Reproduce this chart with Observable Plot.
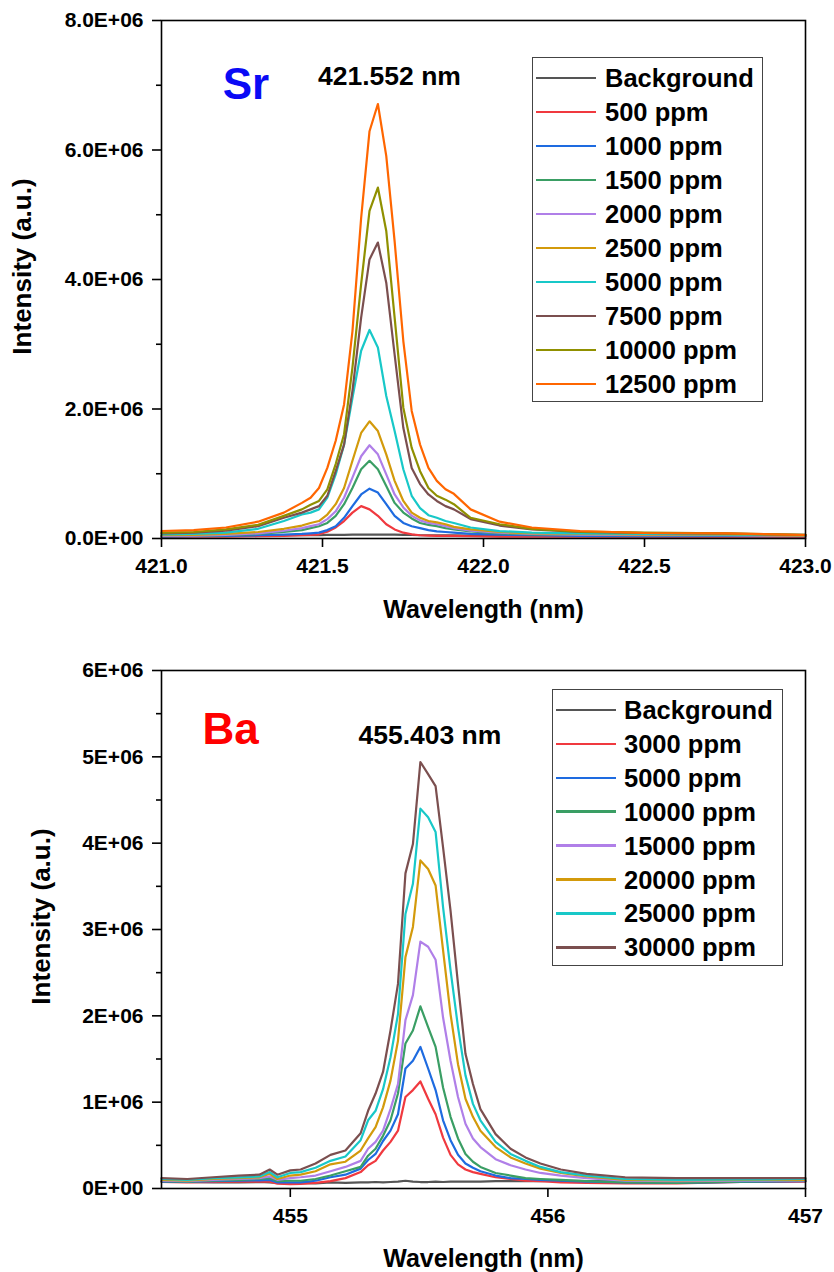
<!DOCTYPE html>
<html><head><meta charset="utf-8">
<script src="https://cdn.jsdelivr.net/npm/d3@7"></script>
<script src="https://cdn.jsdelivr.net/npm/@observablehq/plot@0.6"></script>
<style>
body{margin:0;background:#fff;}
#wrap{position:relative;width:834px;height:1272px;font-family:"Liberation Sans",Arial,sans-serif;}
#wrap svg{display:block;}
.legend{position:absolute;border:1.4px solid #444;background:#fff;box-sizing:border-box;}
.legend .row{position:absolute;left:0;height:26px;display:flex;align-items:center;font-weight:bold;font-size:25.5px;line-height:26px;white-space:nowrap;color:#000;}
.legend .sw{position:absolute;height:2.6px;}
</style></head><body><div id="wrap"></div>
<script>
// ---------- Sr panel data (intensity in units of 1E+06 a.u.) ----------
const srWavelength = [421.0,421.1,421.2,421.3,421.38,421.436,421.463,421.489,421.515,421.541,421.567,421.593,421.620,421.646,421.672,421.698,421.724,421.751,421.777,421.803,421.829,421.855,421.882,421.908,421.96,422.05,422.15,422.3,422.5,422.75,423.0];
const srNames = ["Background","500 ppm","1000 ppm","1500 ppm","2000 ppm","2500 ppm","5000 ppm","7500 ppm","10000 ppm","12500 ppm"];
const srColors = ["#555555","#F0393F","#1E6BE0","#3A9E64","#B07FE8","#D39A0B","#18C8C8","#7B4F4F","#909000","#FF6600"];
const srBackground = [0.04,0.04,0.045,0.045,0.05,0.05,0.05,0.05,0.055,0.055,0.055,0.06,0.06,0.06,0.06,0.06,0.06,0.055,0.055,0.05,0.05,0.05,0.05,0.05,0.045,0.045,0.04,0.035,0.03,0.03,0.03];
const sr500 = [0.025,0.03,0.03,0.035,0.04,0.05,0.055,0.065,0.105,0.17,0.27,0.40,0.50,0.45,0.35,0.22,0.14,0.09,0.065,0.05,0.045,0.042,0.04,0.04,0.035,0.03,0.03,0.03,0.03,0.03,0.025];
const sr1000 = [0.03,0.035,0.04,0.05,0.06,0.07,0.08,0.09,0.13,0.19,0.32,0.50,0.68,0.77,0.71,0.53,0.35,0.24,0.19,0.16,0.13,0.11,0.10,0.09,0.07,0.06,0.05,0.04,0.035,0.04,0.035];
const sr1500 = [0.035,0.04,0.05,0.07,0.10,0.13,0.16,0.19,0.24,0.35,0.53,0.78,1.07,1.20,1.07,0.81,0.55,0.40,0.31,0.24,0.21,0.19,0.16,0.14,0.11,0.08,0.065,0.055,0.05,0.05,0.04];
const sr2000 = [0.04,0.045,0.055,0.08,0.12,0.16,0.19,0.22,0.30,0.42,0.63,0.94,1.27,1.44,1.30,0.99,0.68,0.48,0.35,0.28,0.24,0.22,0.19,0.16,0.12,0.09,0.07,0.06,0.05,0.05,0.04];
const sr2500 = [0.05,0.055,0.07,0.10,0.15,0.20,0.24,0.27,0.37,0.53,0.78,1.20,1.63,1.81,1.66,1.30,0.89,0.58,0.40,0.32,0.27,0.25,0.22,0.18,0.14,0.10,0.08,0.07,0.06,0.06,0.045];
const sr5000 = [0.065,0.07,0.09,0.15,0.27,0.37,0.40,0.45,0.63,0.99,1.45,2.17,2.90,3.22,2.95,2.20,1.66,1.07,0.66,0.47,0.36,0.32,0.27,0.24,0.17,0.115,0.09,0.08,0.07,0.065,0.05];
const sr7500 = [0.08,0.09,0.12,0.19,0.32,0.40,0.45,0.50,0.66,1.04,1.45,2.28,3.41,4.31,4.57,3.95,2.84,1.71,1.09,0.84,0.68,0.58,0.50,0.45,0.30,0.20,0.14,0.10,0.085,0.075,0.055];
const sr10000 = [0.09,0.10,0.14,0.21,0.35,0.45,0.52,0.58,0.76,1.15,1.61,2.64,3.93,5.06,5.42,4.75,3.41,2.02,1.40,1.04,0.78,0.66,0.60,0.53,0.32,0.22,0.15,0.105,0.09,0.08,0.055];
const sr12500 = [0.116,0.13,0.17,0.26,0.40,0.55,0.63,0.78,1.09,1.51,2.07,3.20,4.95,6.29,6.71,5.91,4.59,3.05,1.97,1.45,1.09,0.89,0.76,0.69,0.45,0.26,0.17,0.116,0.085,0.08,0.054];
const srXTicks = [421.0,421.5,422.0,422.5,423.0];
const srYTicks = [0,2e6,4e6,6e6,8e6];
const srYMinor = [1e6,3e6,5e6,7e6];
const srNotes = [
  {text:"Sr", x:421.19, y:6.78e6, color:"#0A0AF5", size:44, anchor:"start"},
  {text:"421.552 nm", x:421.708, y:7.01e6, color:"#000", size:26.5, anchor:"middle"}
];

// ---------- Ba panel data (intensity in units of 1E+06 a.u.) ----------
const baWavelength = [454.5,454.6,454.7,454.8,454.88,454.92,454.95,455.0,455.040,455.098,455.156,455.214,455.273,455.302,455.331,455.360,455.389,455.418,455.447,455.476,455.505,455.535,455.564,455.593,455.622,455.651,455.680,455.709,455.738,455.797,455.855,455.913,455.971,456.05,456.15,456.3,456.5,456.75,457.0];
const baNames = ["Background","3000 ppm","5000 ppm","10000 ppm","15000 ppm","20000 ppm","25000 ppm","30000 ppm"];
const baColors = ["#555555","#F0393F","#1E6BE0","#3A9E64","#B07FE8","#D39A0B","#18C8C8","#7B4F4F"];
const baBackground = [0.08,0.075,0.07,0.07,0.075,0.07,0.065,0.06,0.065,0.06,0.07,0.065,0.07,0.07,0.075,0.07,0.075,0.08,0.09,0.08,0.075,0.075,0.08,0.075,0.08,0.08,0.08,0.08,0.08,0.085,0.085,0.085,0.085,0.09,0.085,0.09,0.09,0.09,0.09];
const ba3000 = [0.075,0.07,0.075,0.08,0.08,0.08,0.055,0.05,0.054,0.066,0.085,0.12,0.19,0.27,0.32,0.44,0.54,0.67,1.06,1.14,1.24,1.04,0.86,0.59,0.39,0.28,0.22,0.19,0.17,0.13,0.11,0.09,0.085,0.07,0.066,0.06,0.06,0.075,0.08];
const ba5000 = [0.08,0.075,0.085,0.09,0.095,0.10,0.07,0.07,0.07,0.09,0.13,0.16,0.23,0.33,0.40,0.55,0.67,0.86,1.39,1.48,1.64,1.39,1.14,0.79,0.56,0.39,0.29,0.24,0.20,0.15,0.12,0.11,0.10,0.09,0.08,0.07,0.065,0.075,0.085];
const ba10000 = [0.085,0.08,0.09,0.10,0.11,0.12,0.085,0.09,0.09,0.11,0.15,0.20,0.25,0.38,0.46,0.61,0.79,1.10,1.68,1.83,2.11,1.87,1.64,1.17,0.83,0.58,0.40,0.31,0.25,0.18,0.15,0.12,0.11,0.10,0.085,0.07,0.065,0.08,0.09];
const ba15000 = [0.09,0.085,0.10,0.11,0.12,0.14,0.10,0.12,0.13,0.15,0.20,0.25,0.32,0.46,0.54,0.67,0.92,1.21,1.95,2.24,2.86,2.80,2.65,1.98,1.48,1.06,0.75,0.58,0.48,0.34,0.27,0.22,0.18,0.15,0.12,0.09,0.085,0.09,0.095];
const ba20000 = [0.10,0.09,0.11,0.12,0.13,0.17,0.11,0.15,0.16,0.20,0.28,0.31,0.44,0.58,0.71,0.94,1.25,1.71,2.68,3.03,3.80,3.70,3.51,2.76,2.02,1.44,1.04,0.83,0.67,0.48,0.36,0.29,0.23,0.18,0.14,0.10,0.095,0.10,0.10];
const ba25000 = [0.11,0.10,0.12,0.13,0.14,0.19,0.13,0.18,0.19,0.24,0.32,0.37,0.56,0.79,0.90,1.15,1.52,2.02,3.18,3.53,4.40,4.30,4.13,3.26,2.53,1.87,1.31,0.98,0.79,0.54,0.40,0.32,0.25,0.19,0.15,0.11,0.10,0.105,0.11];
const ba30000 = [0.12,0.11,0.13,0.15,0.16,0.22,0.16,0.21,0.22,0.29,0.39,0.44,0.64,0.90,1.10,1.35,1.83,2.37,3.65,3.99,4.94,4.80,4.66,3.95,3.22,2.37,1.56,1.21,0.92,0.63,0.46,0.36,0.29,0.22,0.17,0.13,0.12,0.12,0.12];
const baXTicks = [455,456,457];
const baYTicks = [0,1e6,2e6,3e6,4e6,5e6,6e6];
const baYMinor = [0.5e6,1.5e6,2.5e6,3.5e6,4.5e6,5.5e6];
const baNotes = [
  {text:"Ba", x:454.659, y:5.15e6, color:"#FF0000", size:44, anchor:"start"},
  {text:"455.403 nm", x:455.542, y:5.15e6, color:"#000", size:26.5, anchor:"middle"}
];

function sci(d, digits) {
  if (d === 0) return (0).toFixed(digits) + "E+00";
  const e = Math.floor(Math.log10(Math.abs(d)) + 1e-9);
  const m = d / Math.pow(10, e);
  return m.toFixed(digits) + "E" + (e < 0 ? "-" : "+") + String(Math.abs(e)).padStart(2, "0");
}

function makePanel(cfg) {
  const rows = [];
  cfg.series.forEach((vals, i) => vals.forEach((v, j) => rows.push({wl: cfg.wl[j], v: v * 1e6, s: cfg.names[i]})));
  const marks = [
    Plot.line(rows, {x: "wl", y: "v", z: "s", stroke: "s", strokeWidth: 2.2, strokeLinejoin: "round"}),
    Plot.frame({stroke: "#000", strokeWidth: 1.6}),
    Plot.axisX({ticks: cfg.xTicks, tickSize: 9, tickPadding: 11, tickFormat: cfg.xFmt, label: null, strokeWidth: 1.6, fontSize: 21}),
    Plot.axisY({ticks: cfg.yMinor, tickSize: 5, tickFormat: () => "", label: null, strokeWidth: 1.6}),
    Plot.axisY({ticks: cfg.yTicks, tickSize: 9, tickPadding: 9, tickFormat: cfg.yFmt, label: null, strokeWidth: 1.6, fontSize: 21}),
    Plot.text(["Wavelength (nm)"], {text: d => d, frameAnchor: "bottom", dy: cfg.xTitleDy, textAnchor: "middle", lineAnchor: "bottom", fontSize: 25, fontWeight: "bold"}),
    Plot.text(["Intensity (a.u.)"], {text: d => d, frameAnchor: "left", dx: cfg.yTitleDx, dy: -13, rotate: -90, textAnchor: "middle", lineAnchor: "middle", fontSize: 26, fontWeight: "bold"})
  ];
  cfg.notes.forEach(n => marks.push(Plot.text([n], {x: "x", y: "y", text: "text", fill: n.color, fontSize: n.size, textAnchor: n.anchor, lineAnchor: "bottom", fontWeight: "bold"})));
  return Plot.plot({
    width: 834, height: 636,
    marginLeft: 161, marginRight: 29, marginTop: cfg.mt, marginBottom: cfg.mb,
    style: {fontFamily: "'Liberation Sans', Arial, sans-serif", fontWeight: "bold", fontSize: "21px", color: "#000", background: "#fff", overflow: "visible"},
    x: {domain: cfg.xDomain},
    y: {domain: cfg.yDomain},
    color: {domain: cfg.names, range: cfg.colors},
    marks
  });
}

function makeLegend(names, colors, box) {
  const lg = document.createElement("div");
  lg.className = "legend";
  Object.assign(lg.style, {left: box.left + "px", top: box.top + "px", width: box.width + "px", height: box.height + "px"});
  names.forEach((name, i) => {
    const cy = box.first + box.step * i;
    const sw = document.createElement("div");
    sw.className = "sw";
    Object.assign(sw.style, {left: box.lineX0 + "px", width: (box.lineX1 - box.lineX0) + "px", top: (cy - 1.3) + "px", background: colors[i]});
    lg.appendChild(sw);
    const row = document.createElement("div");
    row.className = "row";
    Object.assign(row.style, {left: box.textX + "px", top: (cy - 13) + "px"});
    row.textContent = name;
    lg.appendChild(row);
  });
  return lg;
}

const wrap = document.getElementById("wrap");
wrap.appendChild(makePanel({
  wl: srWavelength, names: srNames, colors: srColors,
  series: [srBackground, sr500, sr1000, sr1500, sr2000, sr2500, sr5000, sr7500, sr10000, sr12500],
  xDomain: [421, 423], yDomain: [0, 8e6], xTicks: srXTicks, yTicks: srYTicks, yMinor: srYMinor,
  xFmt: d => d.toFixed(1), yFmt: d => sci(d, 1),
  mt: 20, mb: 98, xTitleDy: 79, yTitleDx: -139, notes: srNotes
}));
wrap.appendChild(makePanel({
  wl: baWavelength, names: baNames, colors: baColors,
  series: [baBackground, ba3000, ba5000, ba10000, ba15000, ba20000, ba25000, ba30000],
  xDomain: [454.5, 457], yDomain: [0, 6e6], xTicks: baXTicks, yTicks: baYTicks, yMinor: baYMinor,
  xFmt: d => d3.format("d")(d), yFmt: d => sci(d, 0),
  mt: 34, mb: 84, xTitleDy: 78, yTitleDx: -120, notes: baNotes
}));
wrap.appendChild(makeLegend(srNames, srColors, {left: 532, top: 57, width: 231, height: 345, first: 20, step: 34, lineX0: 3, lineX1: 63, textX: 72}));
wrap.appendChild(makeLegend(baNames, baColors, {left: 552, top: 689, width: 231, height: 277, first: 20, step: 33.9, lineX0: 3, lineX1: 63, textX: 71}));
</script></body></html>
